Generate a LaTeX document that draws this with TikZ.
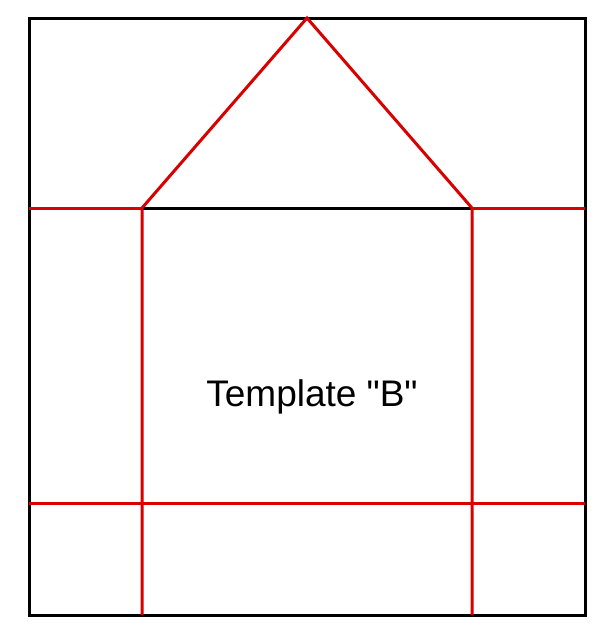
\documentclass[tikz,border=0pt]{standalone}
\usepackage{fontspec}
\setmainfont{Liberation Sans}
\newfontfamily\labelfont{Liberation Sans}[Ligatures=ResetAll]
\usetikzlibrary{positioning}

\begin{document}
\begin{tikzpicture}[x=1pt,y=-1pt,
    cutline/.style={red!85!black,line width=3pt},
    edgeline/.style={black,line width=3pt}
]
    \useasboundingbox (0,0) rectangle (604,640);
    % corners of the outer square
    \coordinate (tl) at (29,18);
    \coordinate (tr) at (585,18);
    \coordinate (br) at (585,615);
    \coordinate (bl) at (29,615);
    % points on the cut lines
    \coordinate (peak) at (307,18);
    \coordinate (ml) at (29,208);
    \coordinate (mr) at (585,208);
    \coordinate (hl) at (142,208);
    \coordinate (hr) at (472,208);
    \coordinate (fl) at (142,615);
    \coordinate (fr) at (472,615);
    \coordinate (ll) at (29,503);
    \coordinate (lr) at (585,503);
    \draw [edgeline] (tl) -- (tr) -- (br) -- (bl) -- cycle;
    \draw [edgeline] (hl) -- (hr);
    \draw [cutline] (ml) -- (hl);
    \draw [cutline] (hr) -- (mr);
    \draw [cutline] (ll) -- (lr);
    \draw [cutline] (fl) -- (hl) -- (peak) -- (hr) -- (fr);
    \node [font=\labelfont\fontsize{37}{42}\selectfont] (label) at (312,397) {Template "B"};
\end{tikzpicture}
\end{document}
